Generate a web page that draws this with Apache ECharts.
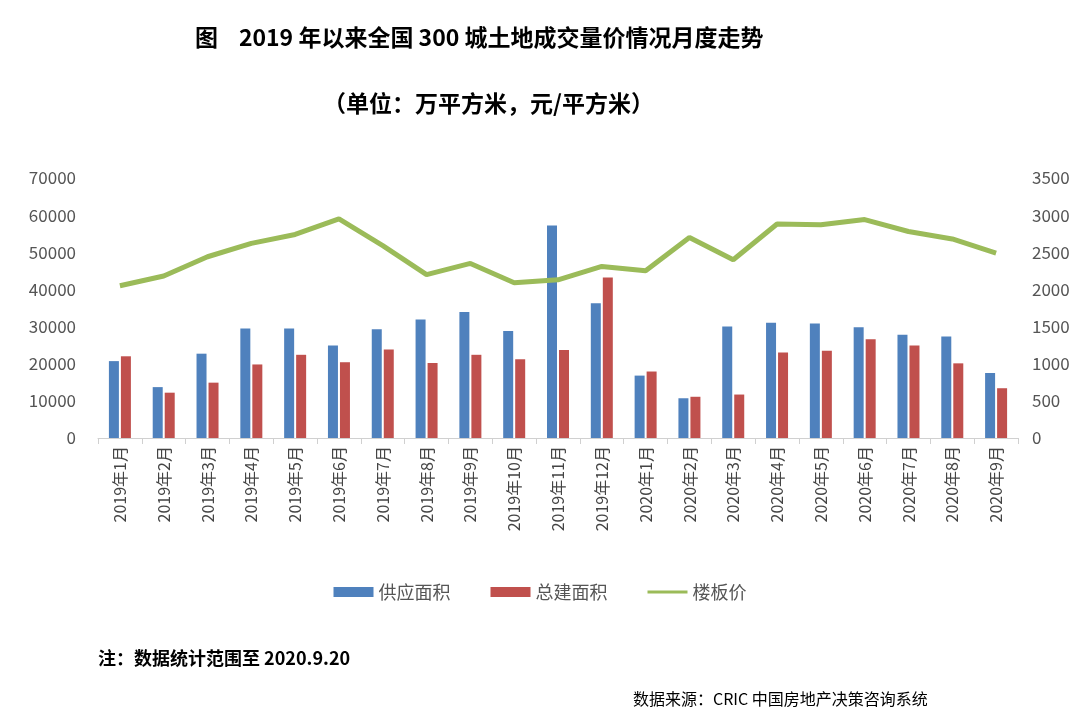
<!DOCTYPE html>
<html>
<head>
<meta charset="utf-8">
<script src="https://cdn.jsdelivr.net/npm/echarts@6/dist/echarts.min.js"></script>
<style>
  html, body { margin: 0; padding: 0; background: #fff; }
  #chart { width: 1080px; height: 727px; }
</style>
</head>
<body>
<div id="chart"></div>
<script>
// 数据
const months = ['2019年1月', '2019年2月', '2019年3月', '2019年4月', '2019年5月', '2019年6月', '2019年7月',
  '2019年8月', '2019年9月', '2019年10月', '2019年11月', '2019年12月', '2020年1月', '2020年2月',
  '2020年3月', '2020年4月', '2020年5月', '2020年6月', '2020年7月', '2020年8月', '2020年9月']
const supplyArea = [20700, 13700, 22700, 29500, 29500, 24900, 29300, 31900, 33900, 28800, 57200,
  36300, 16800, 10700, 30000, 31000, 30800, 29800, 27800, 27300, 17500]
const buildArea = [22000, 12200, 14900, 19800, 22400, 20400, 23800, 20200, 22400, 21200, 23700,
  43200, 17900, 11100, 11700, 23000, 23500, 26600, 24900, 20100, 13400]
const floorPrice = [2050, 2180, 2440, 2620, 2740, 2950, 2590, 2200, 2350, 2090, 2130,
  2310, 2250, 2700, 2400, 2880, 2870, 2940, 2780, 2680, 2490]

const font = '"Noto Sans CJK SC", sans-serif'
let myChart = echarts.init(document.querySelector('#chart'))
let option = {
  textStyle: { fontFamily: font },
  title: [
    {
      text: '图    2019 年以来全国 300 城土地成交量价情况月度走势',
      left: 190, top: 21,
      textStyle: { fontSize: 23, fontWeight: 'bold', color: '#000', fontFamily: font }
    },
    {
      text: '（单位：万平方米，元/平方米）',
      left: 318, top: 87,
      textStyle: { fontSize: 23, fontWeight: 'bold', color: '#000', fontFamily: font }
    },
    {
      text: '注：数据统计范围至 2020.9.20',
      left: 93, top: 644,
      textStyle: { fontSize: 18, fontWeight: 'bold', color: '#000', fontFamily: font }
    },
    {
      text: '数据来源：CRIC 中国房地产决策咨询系统',
      left: 628, top: 686,
      textStyle: { fontSize: 16, fontWeight: 'normal', color: '#000', fontFamily: font }
    }
  ],
  legend: {
    top: 578, left: 'center', itemGap: 40, itemWidth: 40, itemHeight: 10,
    textStyle: { fontSize: 18, color: '#555' },
    data: [
      { name: '供应面积', icon: 'rect' },
      { name: '总建面积', icon: 'rect' },
      { name: '楼板价', icon: 'path://M0,4 L40,4 L40,7 L0,7 Z' }
    ]
  },
  grid: { left: 98, right: 62, top: 178, bottom: 289 },
  xAxis: {
    type: 'category',
    data: months,
    axisLine: { lineStyle: { color: '#d0d0d0' } },
    axisTick: { show: true, lineStyle: { color: '#d0d0d0' }, length: 6 },
    axisLabel: { rotate: 90, color: '#444', fontSize: 16, interval: 0 }
  },
  yAxis: [
    {
      type: 'value', min: 0, max: 70000, interval: 10000,
      splitLine: { show: false },
      axisLabel: { color: '#555', fontSize: 17, margin: 22, formatter: v => String(v) }
    },
    {
      type: 'value', min: 0, max: 3500, interval: 500,
      splitLine: { show: false },
      axisLabel: { color: '#555', fontSize: 17, margin: 14, formatter: v => String(v) }
    }
  ],
  color: ['#4f81bd', '#c0504d', '#9bbb59'],
  series: [
    { name: '供应面积', type: 'bar', data: supplyArea, barWidth: 10, barGap: '20%' },
    { name: '总建面积', type: 'bar', data: buildArea, barWidth: 10 },
    {
      name: '楼板价', type: 'line', yAxisIndex: 1, data: floorPrice,
      symbol: 'none', lineStyle: { width: 5 }
    }
  ]
}
myChart.setOption(option)
</script>
</body>
</html>
